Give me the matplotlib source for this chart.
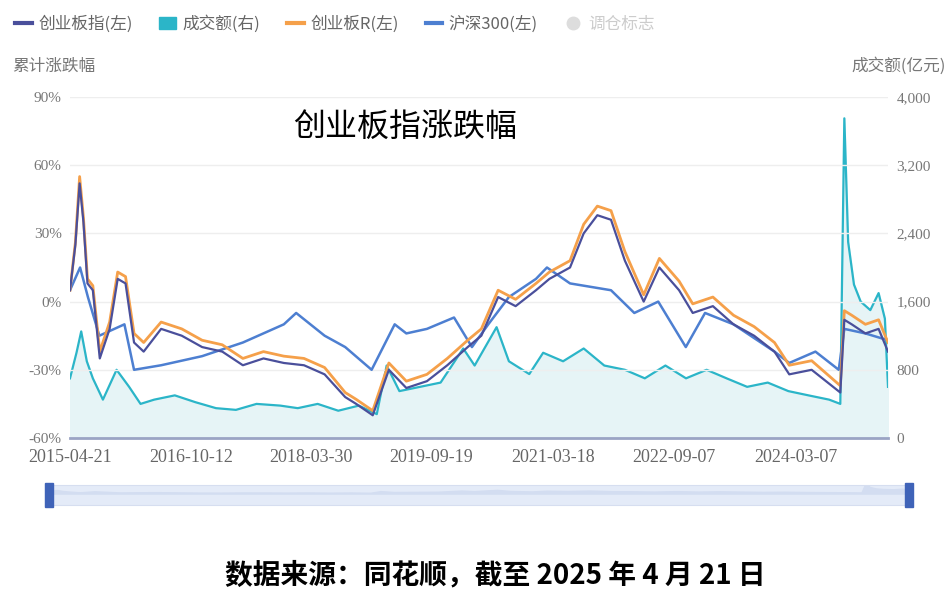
import pandas as pd
import matplotlib.pyplot as plt
import matplotlib.patches as mpatches
from matplotlib.lines import Line2D

plt.rcParams['font.family'] = ['Noto Sans CJK SC', 'DejaVu Sans']

# ---- data ----
cyb_dates = ["2015-04-21", "2015-05-15", "2015-06-03", "2015-06-20", "2015-07-08", "2015-08-01", "2015-09-01",
             "2015-10-15", "2015-11-20", "2015-12-25", "2016-02-01", "2016-03-15", "2016-06-01", "2016-09-01",
             "2016-12-01", "2017-03-01", "2017-06-01", "2017-09-01", "2017-12-01", "2018-03-01", "2018-06-01",
             "2018-09-01", "2018-10-20", "2019-01-02", "2019-03-15", "2019-06-01", "2019-09-01", "2019-12-01",
             "2020-03-01", "2020-05-01", "2020-07-15", "2020-10-01", "2020-12-31", "2021-03-01", "2021-06-01",
             "2021-08-01", "2021-10-01", "2021-12-01", "2022-02-01", "2022-04-26", "2022-07-05", "2022-10-01",
             "2022-12-01", "2023-03-01", "2023-06-01", "2023-09-01", "2023-12-01", "2024-02-05", "2024-05-15",
             "2024-09-20", "2024-10-08", "2024-11-10", "2025-01-10", "2025-03-10", "2025-04-21"]
cyb = [5, 25, 52, 35, 8, 5, -25, -12, 10, 8, -18, -22, -12, -15, -20, -22, -28, -25, -27, -28, -32,
       -42, -45, -50, -30, -38, -35, -28, -20, -15, 2, -2, 5, 10, 15, 30, 38, 36, 18, 0, 15, 5,
       -5, -2, -10, -15, -22, -32, -30, -40, -8, -10, -14, -12, -22]
cybr = [5, 26, 55, 37, 10, 7, -22, -9, 13, 11, -14, -18, -9, -12, -17, -19, -25, -22, -24, -25, -29,
        -40, -43, -48, -27, -35, -32, -25, -17, -12, 5, 1, 8, 13, 18, 34, 42, 40, 22, 3, 19, 9,
        -1, 2, -6, -11, -18, -28, -26, -37, -4, -6, -10, -8, -18]
hs_dates = ["2015-04-21", "2015-06-05", "2015-07-10", "2015-08-30", "2015-12-20", "2016-02-01", "2016-06-01",
            "2016-12-01", "2017-06-01", "2017-12-01", "2018-01-25", "2018-06-01", "2018-09-01", "2018-12-28",
            "2019-04-10", "2019-06-01", "2019-09-01", "2019-12-31", "2020-03-20", "2020-06-01", "2020-09-01",
            "2020-12-31", "2021-02-18", "2021-06-01", "2021-12-01", "2022-03-15", "2022-06-30", "2022-10-31",
            "2023-01-25", "2023-06-01", "2023-12-01", "2024-02-05", "2024-06-01", "2024-09-13", "2024-10-08",
            "2025-01-10", "2025-04-21"]
hs300 = [5, 15, 2, -15, -10, -30, -28, -24, -18, -10, -5, -15, -20, -30, -10, -14, -12, -7, -20, -10, 2,
         10, 15, 8, 5, -5, 0, -20, -5, -10, -22, -27, -22, -30, -12, -14, -17]
vol_dates = ["2015-04-21", "2015-05-20", "2015-06-10", "2015-07-05", "2015-08-01", "2015-09-15", "2015-11-15",
             "2016-01-10", "2016-03-01", "2016-05-01", "2016-08-01", "2016-11-01", "2017-02-01", "2017-05-01",
             "2017-08-01", "2017-11-15", "2018-02-01", "2018-05-01", "2018-08-01", "2018-11-01", "2019-01-20",
             "2019-03-05", "2019-05-01", "2019-08-01", "2019-11-01", "2020-02-10", "2020-04-01", "2020-07-08",
             "2020-09-01", "2020-12-01", "2021-02-01", "2021-05-01", "2021-08-01", "2021-11-01", "2022-02-01",
             "2022-05-01", "2022-08-01", "2022-11-01", "2023-02-01", "2023-05-01", "2023-08-01", "2023-11-01",
             "2024-02-01", "2024-05-01", "2024-08-01", "2024-09-20", "2024-10-08", "2024-10-25", "2024-11-20",
             "2024-12-20", "2025-02-01", "2025-03-10", "2025-04-07", "2025-04-21"]
vol = [700, 1000, 1250, 900, 700, 450, 800, 600, 400, 450, 500, 420, 350, 330, 400, 380, 350, 400, 320,
       380, 280, 850, 550, 600, 650, 1050, 850, 1300, 900, 750, 1000, 900, 1050, 850, 800, 700, 850, 700,
       800, 700, 600, 650, 550, 500, 450, 400, 3750, 2300, 1800, 1600, 1500, 1700, 1400, 600]
x_ticks = ["2015-04-21", "2016-10-12", "2018-03-30", "2019-09-19", "2021-03-18", "2022-09-07", "2024-03-07"]
y_ticks = [-60, -30, 0, 30, 60, 90]
y2_ticks = [0, 800, 1600, 2400, 3200, 4000]

fig = plt.figure(figsize=(9.46, 6.02), dpi=100)
ax = fig.add_axes([70/946, 1-438/602, (888-70)/946, (438-97)/602])
ax2 = ax.twinx()
ax.set_zorder(2)
ax.patch.set_visible(False)

vd = pd.to_datetime(vol_dates)
ax2.fill_between(vd, vol, color="#e6f4f6", zorder=1)
ax2.plot(vd, vol, color="#2bb5c8", lw=1.6, zorder=2)
ax2.set_ylim(0, 4000)
ax2.set_yticks(y2_ticks)
ax2.set_yticklabels([f"{v:,}" for v in y2_ticks])

ax.plot(pd.to_datetime(hs_dates), hs300, color="#4d7fd1", lw=1.8)
ax.plot(pd.to_datetime(cyb_dates), cybr, color="#f5a04a", lw=2)
ax.plot(pd.to_datetime(cyb_dates), cyb, color="#4a4f9b", lw=1.6)
ax.set_ylim(-60, 90)
ax.set_yticks(y_ticks)
ax.set_yticklabels([f"{v}%" for v in y_ticks])
ax.set_xlim(pd.Timestamp("2015-04-21"), pd.Timestamp("2025-04-21"))
ax.set_xticks(pd.to_datetime(x_ticks))
ax.set_xticklabels(x_ticks)
ax.grid(axis="y", color="#eeeeee", lw=1)
ax2.grid(False)

for a in (ax, ax2):
    for s in a.spines.values():
        s.set_visible(False)
    a.tick_params(length=0, colors="#777777", labelsize=11)
    for t in a.get_xticklabels() + a.get_yticklabels():
        t.set_family("Liberation Serif")
ax.spines["bottom"].set_visible(True)
ax.spines["bottom"].set_color("#9aa4c4")
ax.spines["bottom"].set_linewidth(2)
ax.tick_params(axis="x", pad=8, labelsize=13, colors="#666666")
ax.tick_params(axis="y", pad=6)
ax2.tick_params(axis="y", pad=6)

handles = [Line2D([], [], color="#4a4f9b", lw=3),
           mpatches.Patch(color="#2bb5c8"),
           Line2D([], [], color="#f5a04a", lw=3),
           Line2D([], [], color="#4d7fd1", lw=3),
           Line2D([], [], color="#dddddd", marker="o", lw=0, markersize=9)]
labels = ["创业板指(左)", "成交额(右)", "创业板R(左)", "沪深300(左)", "调仓标志"]
leg = fig.legend(handles, labels, loc="upper left", bbox_to_anchor=(0.0, 1.0), ncol=5, frameon=False,
                 fontsize=12, handlelength=1.0, columnspacing=1.6, handletextpad=0.4)
for t, c in zip(leg.get_texts(), ["#666666"] * 4 + ["#cccccc"]):
    t.set_color(c)

fig.text(12/946, 1-66/602, "累计涨跌幅", fontsize=12, color="#777777", va="center")
fig.text(946/946, 1-66/602, "成交额(亿元)", fontsize=12, color="#777777", va="center", ha="right")
fig.text(293/946, 1-127/602, "创业板指涨跌幅", fontsize=23, color="black", va="center")

# zoom slider
sl = fig.add_axes([45/946, 1-505/602, (912-45)/946, 20/602])
sl.fill_between(vd, vol, color="#d3ddf1")
sl.set_facecolor("#e4ebf8")
sl.set_xlim(pd.Timestamp("2015-04-21"), pd.Timestamp("2025-04-21"))
sl.set_ylim(-4000, 3000)
sl.set_xticks([])
sl.set_yticks([])
for s in sl.spines.values():
    s.set_color("#d6def0")
for xp in (45, 905):
    fig.patches.append(mpatches.Rectangle((xp/946, 1-507/602), 8/946, 24/602, color="#3f63b8",
                                          transform=fig.transFigure))

fig.text(225/946, 1-575/602, "数据来源：同花顺，截至 2025 年 4 月 21 日", fontsize=20, fontweight="bold",
         color="black", va="center")

fig.savefig("out.png", dpi=100)
